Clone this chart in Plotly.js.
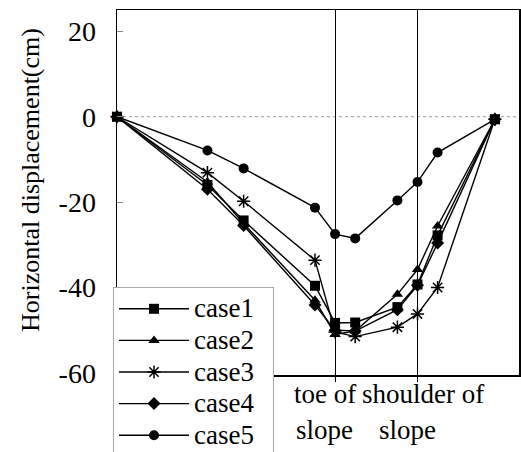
<!DOCTYPE html>
<html>
<head>
<meta charset="utf-8">
<script src="https://cdn.plot.ly/plotly-3.0.1.min.js"></script>
<style>html,body{margin:0;padding:0;background:#fff;}#chart{width:521px;height:452px;}</style>
</head>
<body>
<div id="chart"></div>
<script>
// measurement positions along the slope section (arbitrary distance units)
var xPos = [0, 9.0, 12.6, 19.7, 21.7, 23.7, 27.9, 29.9, 31.9, 37.6];
var case1 = [0, -16.0, -24.3, -39.6, -48.3, -48.2, -44.6, -39.3, -27.8, -0.6];
var case2 = [0, -15.3, -25.0, -43.0, -51.0, -50.2, -41.6, -35.8, -25.6, -0.6];
var case3 = [0, -13.1, -19.8, -33.6, -50.4, -51.5, -49.3, -46.2, -40.0, -0.6];
var case4 = [0, -17.0, -25.5, -44.1, -50.0, -50.2, -45.2, -39.5, -29.6, -0.6];
var case5 = [0, -7.9, -12.1, -21.3, -27.5, -28.5, -19.6, -15.3, -8.4, -0.6];
var seriesNames = ['case1', 'case2', 'case3', 'case4', 'case5'];
var markerSymbols = ['square', 'triangle-up', 'asterisk-open', 'diamond', 'circle'];
var markLines = [21.7, 29.9];              // toe of slope, shoulder of slope
var markLabelsTop = ['toe of', 'shoulder of'];
var markLabelsBottom = ['slope', 'slope'];
var yTicks = [20, 0, -20, -40, -60];
var yTitle = 'Horizontal displacement(cm)';

var FONT = 'Liberation Serif, Times New Roman, serif';
var allY = [case1, case2, case3, case4, case5];
var traces = allY.map(function (ys, i) {
  var star = markerSymbols[i] === 'asterisk-open';
  return {
    x: xPos, y: ys, name: '<span style="font-size:27px">' + seriesNames[i] + '&nbsp;&nbsp;</span>',
    type: 'scatter', mode: 'lines+markers',
    cliponaxis: false,
    line: {color: '#000', width: 1.4},
    marker: {symbol: markerSymbols[i], size: star ? 11 : 10,
             color: '#000', line: {color: '#000', width: star ? 1.5 : 0}}
  };
});

var annotations = [];
var topShift = [-10, 5];
var botShift = [-11, -10];
markLines.forEach(function (v, i) {
  annotations.push({xref: 'x', yref: 'paper', x: v, y: 0, xshift: topShift[i], yshift: -19,
    text: markLabelsTop[i], showarrow: false, xanchor: 'center', yanchor: 'middle',
    font: {family: FONT, size: 27, color: '#000'}});
  annotations.push({xref: 'x', yref: 'paper', x: v, y: 0, xshift: botShift[i], yshift: -55,
    text: markLabelsBottom[i], showarrow: false, xanchor: 'center', yanchor: 'middle',
    font: {family: FONT, size: 27, color: '#000'}});
});
annotations.push({xref: 'paper', yref: 'paper', x: (30 - 117) / 402, y: (375 - 180) / 365,
  text: yTitle, textangle: -90, showarrow: false, xanchor: 'center', yanchor: 'middle',
  font: {family: FONT, size: 26, color: '#000'}});

var layout = {
  width: 521, height: 452,
  margin: {l: 117, r: 2, t: 10, b: 77, autoexpand: false},
  paper_bgcolor: '#fff', plot_bgcolor: '#fff',
  font: {family: FONT, color: '#000'},
  xaxis: {
    range: [0, 40], tickvals: markLines, showticklabels: false,
    ticks: 'outside', ticklen: 5, tickcolor: '#000', tickwidth: 1,
    showgrid: true, gridcolor: '#000', gridwidth: 1,
    zeroline: false, showline: true, linecolor: '#000', linewidth: 1.5, mirror: true
  },
  yaxis: {
    range: [-60.5, 25], tickvals: yTicks, ticktext: yTicks.map(String),
    ticks: 'inside', ticklen: 6, tickcolor: '#888', tickwidth: 1,
    ticklabelstandoff: 14,
    tickfont: {family: FONT, size: 28, color: '#000'},
    showgrid: false, zeroline: false,
    showline: true, linecolor: '#000', linewidth: 1.5, mirror: true
  },
  shapes: [{type: 'line', xref: 'paper', yref: 'y', x0: 0, x1: 1, y0: 0, y1: 0,
            layer: 'below', line: {color: '#999', width: 1, dash: 'dot'}}],
  legend: {
    x: (113 - 117) / 402, xanchor: 'left', y: (375 - 287) / 365, yanchor: 'top',
    bgcolor: '#fff', bordercolor: '#aaa', borderwidth: 1,
    font: {family: FONT, size: 22, color: '#000'}, itemwidth: 70, tracegroupgap: 0
  },
  showlegend: true,
  annotations: annotations
};

Plotly.newPlot('chart', traces, layout, {displayModeBar: false, staticPlot: true});
</script>
</body>
</html>
